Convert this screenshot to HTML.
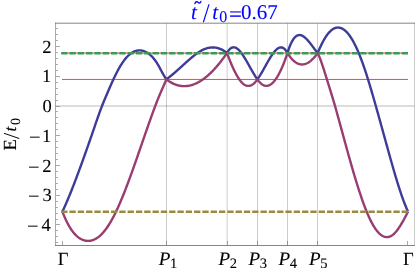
<!DOCTYPE html>
<html><head><meta charset="utf-8"><title>plot</title>
<style>html,body{margin:0;padding:0;background:#fff;font-family:"Liberation Serif",serif}svg{display:block}</style>
</head><body>
<svg width="415" height="268" viewBox="0 0 415 268" style="display:block">
<rect width="415" height="268" fill="#fff"/>
<line x1="166.5" y1="23.2" x2="166.5" y2="245.5" stroke="#000" stroke-opacity="0.2" stroke-width="1"/>
<line x1="227.15" y1="23.2" x2="227.15" y2="245.5" stroke="#000" stroke-opacity="0.2" stroke-width="1"/>
<line x1="257.5" y1="23.2" x2="257.5" y2="245.5" stroke="#000" stroke-opacity="0.2" stroke-width="1"/>
<line x1="287.5" y1="23.2" x2="287.5" y2="245.5" stroke="#000" stroke-opacity="0.2" stroke-width="1"/>
<line x1="317.5" y1="23.2" x2="317.5" y2="245.5" stroke="#000" stroke-opacity="0.2" stroke-width="1"/>
<line x1="55.5" y1="106.00" x2="414.6" y2="106.00" stroke="#000" stroke-opacity="0.135" stroke-width="2"/>
<line x1="62.0" y1="79.45" x2="407.95" y2="79.45" stroke="#ff2020" stroke-width="0.85"/>
<line x1="62.0" y1="53.1" x2="407.95" y2="53.1" stroke="#ff2020" stroke-width="0.9"/>
<path d="M62.40 211.60 L62.90 210.54 L63.40 209.46 L63.90 208.38 L64.40 207.28 L64.90 206.16 L65.40 205.04 L65.90 203.90 L66.40 202.76 L66.90 201.60 L67.40 200.43 L67.90 199.25 L68.40 198.05 L68.90 196.85 L69.40 195.64 L69.90 194.42 L70.40 193.19 L70.90 191.95 L71.40 190.70 L71.90 189.44 L72.40 188.18 L72.90 186.90 L73.40 185.62 L73.90 184.33 L74.40 183.03 L74.90 181.73 L75.40 180.41 L75.90 179.10 L76.40 177.77 L76.90 176.44 L77.40 175.10 L77.90 173.76 L78.40 172.41 L78.90 171.06 L79.40 169.70 L79.90 168.34 L80.40 166.97 L80.90 165.60 L81.40 164.23 L81.90 162.85 L82.40 161.47 L82.90 160.08 L83.40 158.69 L83.90 157.30 L84.40 155.90 L84.90 154.50 L85.40 153.10 L85.90 151.70 L86.40 150.29 L86.90 148.88 L87.40 147.46 L87.90 146.04 L88.40 144.62 L88.90 143.20 L89.40 141.77 L89.90 140.34 L90.40 138.90 L90.90 137.46 L91.40 136.02 L91.90 134.58 L92.40 133.13 L92.90 131.68 L93.40 130.23 L93.90 128.77 L94.40 127.31 L94.90 125.85 L95.40 124.39 L95.90 122.93 L96.40 121.48 L96.90 120.03 L97.40 118.59 L97.90 117.16 L98.40 115.74 L98.90 114.34 L99.40 112.95 L99.90 111.58 L100.40 110.23 L100.90 108.90 L101.40 107.58 L101.90 106.29 L102.40 105.01 L102.90 103.76 L103.40 102.52 L103.90 101.29 L104.40 100.08 L104.90 98.88 L105.40 97.69 L105.90 96.51 L106.40 95.33 L106.90 94.16 L107.40 92.99 L107.90 91.83 L108.40 90.66 L108.90 89.50 L109.40 88.35 L109.90 87.20 L110.40 86.06 L110.90 84.92 L111.40 83.80 L111.90 82.68 L112.40 81.57 L112.90 80.48 L113.40 79.40 L113.90 78.33 L114.40 77.28 L114.90 76.24 L115.40 75.22 L115.90 74.21 L116.40 73.22 L116.90 72.25 L117.40 71.30 L117.90 70.36 L118.40 69.44 L118.90 68.54 L119.40 67.66 L119.90 66.79 L120.40 65.95 L120.90 65.13 L121.40 64.33 L121.90 63.55 L122.40 62.79 L122.90 62.06 L123.40 61.34 L123.90 60.66 L124.40 59.99 L124.90 59.35 L125.40 58.73 L125.90 58.13 L126.40 57.56 L126.90 57.01 L127.40 56.48 L127.90 55.98 L128.40 55.50 L128.90 55.04 L129.40 54.60 L129.90 54.19 L130.40 53.80 L130.90 53.42 L131.40 53.08 L131.90 52.75 L132.40 52.44 L132.90 52.16 L133.40 51.90 L133.90 51.66 L134.40 51.44 L134.90 51.24 L135.40 51.06 L135.90 50.91 L136.40 50.77 L136.90 50.66 L137.40 50.56 L137.90 50.49 L138.40 50.43 L138.90 50.40 L139.40 50.38 L139.90 50.39 L140.40 50.41 L140.90 50.46 L141.40 50.52 L141.90 50.61 L142.40 50.71 L142.90 50.83 L143.40 50.97 L143.90 51.14 L144.40 51.31 L144.90 51.51 L145.40 51.73 L145.90 51.97 L146.40 52.22 L146.90 52.50 L147.40 52.80 L147.90 53.12 L148.40 53.46 L148.90 53.83 L149.40 54.21 L149.90 54.62 L150.40 55.05 L150.90 55.51 L151.40 55.99 L151.90 56.49 L152.40 57.02 L152.90 57.58 L153.40 58.16 L153.90 58.76 L154.40 59.40 L154.90 60.06 L155.40 60.74 L155.90 61.46 L156.40 62.20 L156.90 62.97 L157.40 63.77 L157.90 64.60 L158.40 65.46 L158.90 66.34 L159.40 67.24 L159.90 68.15 L160.40 69.08 L160.90 70.01 L161.40 70.95 L161.90 71.88 L162.40 72.81 L162.90 73.72 L163.40 74.62 L163.90 75.50 L164.40 76.36 L164.90 77.18 L165.40 77.97 L165.90 78.73 L166.30 79.30 L166.30 79.30 L166.80 78.95 L167.30 78.59 L167.80 78.23 L168.30 77.86 L168.80 77.48 L169.30 77.10 L169.80 76.71 L170.30 76.32 L170.80 75.92 L171.30 75.52 L171.80 75.11 L172.30 74.70 L172.80 74.28 L173.30 73.86 L173.80 73.44 L174.30 73.01 L174.80 72.58 L175.30 72.14 L175.80 71.71 L176.30 71.27 L176.80 70.82 L177.30 70.38 L177.80 69.93 L178.30 69.48 L178.80 69.03 L179.30 68.58 L179.80 68.13 L180.30 67.67 L180.80 67.22 L181.30 66.76 L181.80 66.30 L182.30 65.85 L182.80 65.39 L183.30 64.93 L183.80 64.48 L184.30 64.02 L184.80 63.57 L185.30 63.12 L185.80 62.66 L186.30 62.21 L186.80 61.76 L187.30 61.32 L187.80 60.87 L188.30 60.43 L188.80 59.99 L189.30 59.55 L189.80 59.12 L190.30 58.69 L190.80 58.26 L191.30 57.84 L191.80 57.42 L192.30 57.00 L192.80 56.59 L193.30 56.19 L193.80 55.79 L194.30 55.39 L194.80 55.00 L195.30 54.62 L195.80 54.24 L196.30 53.87 L196.80 53.51 L197.30 53.16 L197.80 52.81 L198.30 52.48 L198.80 52.15 L199.30 51.83 L199.80 51.52 L200.30 51.21 L200.80 50.92 L201.30 50.64 L201.80 50.37 L202.30 50.11 L202.80 49.86 L203.30 49.63 L203.80 49.40 L204.30 49.19 L204.80 48.99 L205.30 48.80 L205.80 48.62 L206.30 48.46 L206.80 48.30 L207.30 48.16 L207.80 48.03 L208.30 47.91 L208.80 47.81 L209.30 47.72 L209.80 47.64 L210.30 47.57 L210.80 47.52 L211.30 47.47 L211.80 47.44 L212.30 47.43 L212.80 47.42 L213.30 47.43 L213.80 47.46 L214.30 47.49 L214.80 47.54 L215.30 47.60 L215.80 47.68 L216.30 47.77 L216.80 47.87 L217.30 47.98 L217.80 48.11 L218.30 48.26 L218.80 48.41 L219.30 48.58 L219.80 48.77 L220.30 48.97 L220.80 49.18 L221.30 49.40 L221.80 49.64 L222.30 49.90 L222.80 50.17 L223.30 50.45 L223.80 50.75 L224.30 51.06 L224.80 51.39 L225.30 51.73 L225.80 52.08 L226.30 52.46 L226.80 52.84 L227.00 53.00 L227.00 53.00 L227.50 52.13 L228.00 51.34 L228.50 50.63 L229.00 49.99 L229.50 49.43 L230.00 48.93 L230.50 48.51 L231.00 48.15 L231.50 47.86 L232.00 47.63 L232.50 47.47 L233.00 47.37 L233.50 47.32 L234.00 47.34 L234.50 47.41 L235.00 47.53 L235.50 47.70 L236.00 47.92 L236.50 48.20 L237.00 48.51 L237.50 48.88 L238.00 49.28 L238.50 49.73 L239.00 50.21 L239.50 50.74 L240.00 51.30 L240.50 51.89 L241.00 52.51 L241.50 53.17 L242.00 53.85 L242.50 54.56 L243.00 55.30 L243.50 56.05 L244.00 56.83 L244.50 57.63 L245.00 58.45 L245.50 59.28 L246.00 60.13 L246.50 60.99 L247.00 61.86 L247.50 62.74 L248.00 63.63 L248.50 64.52 L249.00 65.41 L249.50 66.31 L250.00 67.21 L250.50 68.10 L251.00 68.99 L251.50 69.88 L252.00 70.76 L252.50 71.63 L253.00 72.48 L253.50 73.33 L254.00 74.16 L254.50 74.98 L255.00 75.78 L255.50 76.55 L256.00 77.31 L256.50 78.04 L257.00 78.75 L257.40 79.30 L257.40 79.30 L257.90 78.61 L258.40 77.90 L258.90 77.16 L259.40 76.39 L259.90 75.61 L260.40 74.80 L260.90 73.98 L261.40 73.14 L261.90 72.29 L262.40 71.43 L262.90 70.55 L263.40 69.66 L263.90 68.77 L264.40 67.88 L264.90 66.98 L265.40 66.07 L265.90 65.17 L266.40 64.27 L266.90 63.38 L267.40 62.49 L267.90 61.61 L268.40 60.74 L268.90 59.88 L269.40 59.03 L269.90 58.20 L270.40 57.38 L270.90 56.59 L271.40 55.81 L271.90 55.06 L272.40 54.33 L272.90 53.63 L273.40 52.95 L273.90 52.31 L274.40 51.69 L274.90 51.11 L275.40 50.57 L275.90 50.06 L276.40 49.59 L276.90 49.16 L277.40 48.78 L277.90 48.43 L278.40 48.14 L278.90 47.89 L279.40 47.70 L279.90 47.55 L280.40 47.46 L280.90 47.42 L281.40 47.44 L281.90 47.52 L282.40 47.66 L282.90 47.87 L283.40 48.13 L283.90 48.47 L284.40 48.87 L284.90 49.34 L285.40 49.89 L285.90 50.51 L286.40 51.20 L286.90 51.97 L287.40 52.82 L287.50 53.00 L287.50 53.00 L288.00 51.38 L288.50 49.84 L289.00 48.40 L289.50 47.03 L290.00 45.76 L290.50 44.56 L291.00 43.44 L291.50 42.41 L292.00 41.45 L292.50 40.56 L293.00 39.75 L293.50 39.01 L294.00 38.34 L294.50 37.73 L295.00 37.20 L295.50 36.72 L296.00 36.31 L296.50 35.96 L297.00 35.67 L297.50 35.44 L298.00 35.26 L298.50 35.14 L299.00 35.06 L299.50 35.04 L300.00 35.07 L300.50 35.14 L301.00 35.26 L301.50 35.42 L302.00 35.62 L302.50 35.86 L303.00 36.14 L303.50 36.46 L304.00 36.81 L304.50 37.19 L305.00 37.60 L305.50 38.05 L306.00 38.52 L306.50 39.01 L307.00 39.53 L307.50 40.07 L308.00 40.63 L308.50 41.21 L309.00 41.80 L309.50 42.41 L310.00 43.04 L310.50 43.67 L311.00 44.32 L311.50 44.97 L312.00 45.63 L312.50 46.29 L313.00 46.96 L313.50 47.62 L314.00 48.29 L314.50 48.95 L315.00 49.61 L315.50 50.26 L316.00 50.90 L316.50 51.53 L317.00 52.15 L317.50 52.76 L317.70 53.00 L317.70 53.00 L318.20 51.80 L318.70 50.62 L319.20 49.47 L319.70 48.34 L320.20 47.24 L320.70 46.17 L321.20 45.12 L321.70 44.10 L322.20 43.10 L322.70 42.14 L323.20 41.20 L323.70 40.29 L324.20 39.42 L324.70 38.57 L325.20 37.75 L325.70 36.96 L326.20 36.20 L326.70 35.47 L327.20 34.78 L327.70 34.12 L328.20 33.49 L328.70 32.89 L329.20 32.32 L329.70 31.78 L330.20 31.28 L330.70 30.81 L331.20 30.37 L331.70 29.97 L332.20 29.60 L332.70 29.26 L333.20 28.95 L333.70 28.67 L334.20 28.42 L334.70 28.21 L335.20 28.02 L335.70 27.87 L336.20 27.75 L336.70 27.66 L337.20 27.59 L337.70 27.56 L338.20 27.56 L338.70 27.59 L339.20 27.65 L339.70 27.74 L340.20 27.86 L340.70 28.01 L341.20 28.19 L341.70 28.40 L342.20 28.64 L342.70 28.91 L343.20 29.21 L343.70 29.54 L344.20 29.90 L344.70 30.29 L345.20 30.70 L345.70 31.15 L346.20 31.63 L346.70 32.13 L347.20 32.67 L347.70 33.23 L348.20 33.83 L348.70 34.45 L349.20 35.10 L349.70 35.78 L350.20 36.49 L350.70 37.23 L351.20 38.00 L351.70 38.79 L352.20 39.62 L352.70 40.47 L353.20 41.36 L353.70 42.27 L354.20 43.21 L354.70 44.18 L355.20 45.18 L355.70 46.20 L356.20 47.26 L356.70 48.34 L357.20 49.45 L357.70 50.59 L358.20 51.75 L358.70 52.94 L359.20 54.16 L359.70 55.40 L360.20 56.66 L360.70 57.96 L361.20 59.27 L361.70 60.61 L362.20 61.98 L362.70 63.36 L363.20 64.77 L363.70 66.20 L364.20 67.66 L364.70 69.13 L365.20 70.63 L365.70 72.14 L366.20 73.68 L366.70 75.23 L367.20 76.80 L367.70 78.39 L368.20 79.99 L368.70 81.61 L369.20 83.24 L369.70 84.89 L370.20 86.55 L370.70 88.22 L371.20 89.91 L371.70 91.61 L372.20 93.31 L372.70 95.03 L373.20 96.76 L373.70 98.49 L374.20 100.24 L374.70 101.99 L375.20 103.75 L375.70 105.51 L376.20 107.29 L376.70 109.06 L377.20 110.84 L377.70 112.63 L378.20 114.42 L378.70 116.21 L379.20 118.01 L379.70 119.81 L380.20 121.61 L380.70 123.41 L381.20 125.22 L381.70 127.03 L382.20 128.84 L382.70 130.65 L383.20 132.46 L383.70 134.28 L384.20 136.09 L384.70 137.90 L385.20 139.71 L385.70 141.52 L386.20 143.33 L386.70 145.14 L387.20 146.94 L387.70 148.75 L388.20 150.55 L388.70 152.34 L389.20 154.14 L389.70 155.92 L390.20 157.71 L390.70 159.49 L391.20 161.26 L391.70 163.03 L392.20 164.78 L392.70 166.53 L393.20 168.27 L393.70 170.00 L394.20 171.72 L394.70 173.42 L395.20 175.12 L395.70 176.80 L396.20 178.46 L396.70 180.11 L397.20 181.75 L397.70 183.36 L398.20 184.96 L398.70 186.55 L399.20 188.11 L399.70 189.65 L400.20 191.17 L400.70 192.67 L401.20 194.15 L401.70 195.60 L402.20 197.03 L402.70 198.44 L403.20 199.82 L403.70 201.17 L404.20 202.50 L404.70 203.80 L405.20 205.06 L405.70 206.30 L406.20 207.51 L406.70 208.69 L407.20 209.84 L407.70 210.95 L408.00 211.60" fill="none" stroke="#3d3d99" stroke-width="2.4" stroke-linejoin="round"/>
<path d="M62.40 211.60 L62.90 212.89 L63.40 214.15 L63.90 215.37 L64.40 216.56 L64.90 217.71 L65.40 218.82 L65.90 219.91 L66.40 220.96 L66.90 221.98 L67.40 222.96 L67.90 223.92 L68.40 224.84 L68.90 225.73 L69.40 226.59 L69.90 227.42 L70.40 228.23 L70.90 229.00 L71.40 229.74 L71.90 230.46 L72.40 231.14 L72.90 231.80 L73.40 232.44 L73.90 233.04 L74.40 233.62 L74.90 234.17 L75.40 234.70 L75.90 235.21 L76.40 235.69 L76.90 236.14 L77.40 236.57 L77.90 236.98 L78.40 237.37 L78.90 237.73 L79.40 238.07 L79.90 238.39 L80.40 238.69 L80.90 238.97 L81.40 239.22 L81.90 239.46 L82.40 239.68 L82.90 239.88 L83.40 240.06 L83.90 240.23 L84.40 240.37 L84.90 240.50 L85.40 240.61 L85.90 240.70 L86.40 240.77 L86.90 240.83 L87.40 240.86 L87.90 240.88 L88.40 240.88 L88.90 240.86 L89.40 240.83 L89.90 240.77 L90.40 240.70 L90.90 240.60 L91.40 240.49 L91.90 240.37 L92.40 240.22 L92.90 240.05 L93.40 239.87 L93.90 239.66 L94.40 239.44 L94.90 239.20 L95.40 238.94 L95.90 238.66 L96.40 238.37 L96.90 238.05 L97.40 237.72 L97.90 237.36 L98.40 236.99 L98.90 236.60 L99.40 236.19 L99.90 235.76 L100.40 235.31 L100.90 234.85 L101.40 234.36 L101.90 233.85 L102.40 233.33 L102.90 232.79 L103.40 232.22 L103.90 231.64 L104.40 231.04 L104.90 230.42 L105.40 229.78 L105.90 229.12 L106.40 228.44 L106.90 227.74 L107.40 227.02 L107.90 226.29 L108.40 225.53 L108.90 224.75 L109.40 223.96 L109.90 223.14 L110.40 222.31 L110.90 221.45 L111.40 220.58 L111.90 219.69 L112.40 218.78 L112.90 217.85 L113.40 216.90 L113.90 215.94 L114.40 214.96 L114.90 213.96 L115.40 212.94 L115.90 211.91 L116.40 210.86 L116.90 209.80 L117.40 208.72 L117.90 207.63 L118.40 206.52 L118.90 205.40 L119.40 204.26 L119.90 203.11 L120.40 201.95 L120.90 200.77 L121.40 199.58 L121.90 198.38 L122.40 197.17 L122.90 195.94 L123.40 194.70 L123.90 193.45 L124.40 192.19 L124.90 190.92 L125.40 189.64 L125.90 188.35 L126.40 187.05 L126.90 185.74 L127.40 184.42 L127.90 183.09 L128.40 181.75 L128.90 180.41 L129.40 179.05 L129.90 177.69 L130.40 176.32 L130.90 174.95 L131.40 173.57 L131.90 172.18 L132.40 170.79 L132.90 169.39 L133.40 167.98 L133.90 166.57 L134.40 165.16 L134.90 163.74 L135.40 162.31 L135.90 160.89 L136.40 159.46 L136.90 158.02 L137.40 156.59 L137.90 155.15 L138.40 153.71 L138.90 152.26 L139.40 150.82 L139.90 149.37 L140.40 147.92 L140.90 146.47 L141.40 145.03 L141.90 143.58 L142.40 142.13 L142.90 140.68 L143.40 139.23 L143.90 137.79 L144.40 136.34 L144.90 134.90 L145.40 133.46 L145.90 132.02 L146.40 130.59 L146.90 129.15 L147.40 127.73 L147.90 126.30 L148.40 124.88 L148.90 123.46 L149.40 122.05 L149.90 120.64 L150.40 119.24 L150.90 117.84 L151.40 116.45 L151.90 115.07 L152.40 113.69 L152.90 112.31 L153.40 110.95 L153.90 109.59 L154.40 108.25 L154.90 106.91 L155.40 105.58 L155.90 104.27 L156.40 102.97 L156.90 101.68 L157.40 100.40 L157.90 99.15 L158.40 97.90 L158.90 96.68 L159.40 95.47 L159.90 94.28 L160.40 93.12 L160.90 91.97 L161.40 90.83 L161.90 89.70 L162.40 88.58 L162.90 87.45 L163.40 86.32 L163.90 85.17 L164.40 84.00 L164.90 82.81 L165.40 81.59 L165.90 80.33 L166.30 79.30 L166.30 79.30 L166.80 79.68 L167.30 80.06 L167.80 80.42 L168.30 80.77 L168.80 81.10 L169.30 81.43 L169.80 81.75 L170.30 82.05 L170.80 82.34 L171.30 82.62 L171.80 82.89 L172.30 83.15 L172.80 83.40 L173.30 83.64 L173.80 83.87 L174.30 84.08 L174.80 84.29 L175.30 84.48 L175.80 84.66 L176.30 84.83 L176.80 84.99 L177.30 85.15 L177.80 85.29 L178.30 85.41 L178.80 85.53 L179.30 85.64 L179.80 85.74 L180.30 85.83 L180.80 85.90 L181.30 85.97 L181.80 86.02 L182.30 86.07 L182.80 86.10 L183.30 86.13 L183.80 86.14 L184.30 86.15 L184.80 86.14 L185.30 86.13 L185.80 86.10 L186.30 86.06 L186.80 86.02 L187.30 85.96 L187.80 85.90 L188.30 85.82 L188.80 85.74 L189.30 85.64 L189.80 85.54 L190.30 85.42 L190.80 85.30 L191.30 85.16 L191.80 85.02 L192.30 84.86 L192.80 84.70 L193.30 84.53 L193.80 84.35 L194.30 84.16 L194.80 83.95 L195.30 83.74 L195.80 83.52 L196.30 83.30 L196.80 83.06 L197.30 82.81 L197.80 82.55 L198.30 82.29 L198.80 82.01 L199.30 81.73 L199.80 81.44 L200.30 81.14 L200.80 80.83 L201.30 80.51 L201.80 80.18 L202.30 79.84 L202.80 79.49 L203.30 79.14 L203.80 78.78 L204.30 78.40 L204.80 78.02 L205.30 77.63 L205.80 77.24 L206.30 76.83 L206.80 76.41 L207.30 75.99 L207.80 75.56 L208.30 75.12 L208.80 74.67 L209.30 74.21 L209.80 73.75 L210.30 73.28 L210.80 72.79 L211.30 72.30 L211.80 71.81 L212.30 71.30 L212.80 70.79 L213.30 70.26 L213.80 69.74 L214.30 69.20 L214.80 68.65 L215.30 68.10 L215.80 67.54 L216.30 66.97 L216.80 66.39 L217.30 65.81 L217.80 65.21 L218.30 64.62 L218.80 64.01 L219.30 63.39 L219.80 62.77 L220.30 62.14 L220.80 61.50 L221.30 60.86 L221.80 60.21 L222.30 59.55 L222.80 58.88 L223.30 58.21 L223.80 57.53 L224.30 56.84 L224.80 56.14 L225.30 55.44 L225.80 54.73 L226.30 54.01 L226.80 53.29 L227.00 53.00 L227.00 53.00 L227.50 54.35 L228.00 55.69 L228.50 57.01 L229.00 58.31 L229.50 59.58 L230.00 60.84 L230.50 62.07 L231.00 63.28 L231.50 64.47 L232.00 65.63 L232.50 66.77 L233.00 67.88 L233.50 68.97 L234.00 70.02 L234.50 71.05 L235.00 72.06 L235.50 73.03 L236.00 73.97 L236.50 74.89 L237.00 75.77 L237.50 76.62 L238.00 77.43 L238.50 78.22 L239.00 78.96 L239.50 79.68 L240.00 80.36 L240.50 81.00 L241.00 81.61 L241.50 82.17 L242.00 82.70 L242.50 83.19 L243.00 83.64 L243.50 84.05 L244.00 84.42 L244.50 84.75 L245.00 85.04 L245.50 85.28 L246.00 85.49 L246.50 85.66 L247.00 85.78 L247.50 85.87 L248.00 85.91 L248.50 85.92 L249.00 85.88 L249.50 85.80 L250.00 85.69 L250.50 85.53 L251.00 85.33 L251.50 85.10 L252.00 84.82 L252.50 84.50 L253.00 84.15 L253.50 83.75 L254.00 83.32 L254.50 82.84 L255.00 82.32 L255.50 81.77 L256.00 81.17 L256.50 80.54 L257.00 79.87 L257.40 79.30 L257.40 79.30 L257.90 80.02 L258.40 80.70 L258.90 81.33 L259.40 81.92 L259.90 82.47 L260.40 82.98 L260.90 83.45 L261.40 83.87 L261.90 84.25 L262.40 84.59 L262.90 84.89 L263.40 85.15 L263.90 85.37 L264.40 85.55 L264.90 85.69 L265.40 85.79 L265.90 85.84 L266.40 85.86 L266.90 85.84 L267.40 85.78 L267.90 85.68 L268.40 85.54 L268.90 85.36 L269.40 85.15 L269.90 84.89 L270.40 84.60 L270.90 84.27 L271.40 83.90 L271.90 83.49 L272.40 83.05 L272.90 82.57 L273.40 82.05 L273.90 81.49 L274.40 80.90 L274.90 80.28 L275.40 79.61 L275.90 78.91 L276.40 78.17 L276.90 77.40 L277.40 76.60 L277.90 75.75 L278.40 74.88 L278.90 73.96 L279.40 73.02 L279.90 72.03 L280.40 71.02 L280.90 69.97 L281.40 68.88 L281.90 67.77 L282.40 66.61 L282.90 65.43 L283.40 64.21 L283.90 62.96 L284.40 61.68 L284.90 60.36 L285.40 59.01 L285.90 57.63 L286.40 56.22 L286.90 54.77 L287.40 53.30 L287.50 53.00 L287.50 53.00 L288.00 53.80 L288.50 54.56 L289.00 55.30 L289.50 56.00 L290.00 56.68 L290.50 57.32 L291.00 57.94 L291.50 58.53 L292.00 59.09 L292.50 59.62 L293.00 60.12 L293.50 60.59 L294.00 61.04 L294.50 61.46 L295.00 61.84 L295.50 62.21 L296.00 62.54 L296.50 62.85 L297.00 63.13 L297.50 63.38 L298.00 63.60 L298.50 63.80 L299.00 63.98 L299.50 64.12 L300.00 64.24 L300.50 64.34 L301.00 64.40 L301.50 64.45 L302.00 64.46 L302.50 64.45 L303.00 64.42 L303.50 64.36 L304.00 64.28 L304.50 64.17 L305.00 64.04 L305.50 63.88 L306.00 63.70 L306.50 63.50 L307.00 63.27 L307.50 63.02 L308.00 62.74 L308.50 62.44 L309.00 62.12 L309.50 61.78 L310.00 61.41 L310.50 61.02 L311.00 60.60 L311.50 60.17 L312.00 59.71 L312.50 59.23 L313.00 58.73 L313.50 58.21 L314.00 57.67 L314.50 57.10 L315.00 56.52 L315.50 55.91 L316.00 55.28 L316.50 54.64 L317.00 53.97 L317.50 53.28 L317.70 53.00 L317.70 53.00 L318.20 54.07 L318.70 55.20 L319.20 56.39 L319.70 57.64 L320.20 58.94 L320.70 60.28 L321.20 61.67 L321.70 63.10 L322.20 64.56 L322.70 66.06 L323.20 67.58 L323.70 69.13 L324.20 70.69 L324.70 72.27 L325.20 73.87 L325.70 75.47 L326.20 77.07 L326.70 78.68 L327.20 80.28 L327.70 81.89 L328.20 83.49 L328.70 85.09 L329.20 86.70 L329.70 88.31 L330.20 89.92 L330.70 91.54 L331.20 93.18 L331.70 94.82 L332.20 96.47 L332.70 98.13 L333.20 99.81 L333.70 101.50 L334.20 103.21 L334.70 104.93 L335.20 106.68 L335.70 108.44 L336.20 110.22 L336.70 112.01 L337.20 113.81 L337.70 115.61 L338.20 117.42 L338.70 119.23 L339.20 121.04 L339.70 122.86 L340.20 124.68 L340.70 126.51 L341.20 128.33 L341.70 130.16 L342.20 131.99 L342.70 133.82 L343.20 135.65 L343.70 137.47 L344.20 139.30 L344.70 141.12 L345.20 142.95 L345.70 144.76 L346.20 146.58 L346.70 148.39 L347.20 150.20 L347.70 152.00 L348.20 153.80 L348.70 155.59 L349.20 157.38 L349.70 159.15 L350.20 160.93 L350.70 162.69 L351.20 164.44 L351.70 166.19 L352.20 167.92 L352.70 169.65 L353.20 171.36 L353.70 173.07 L354.20 174.76 L354.70 176.44 L355.20 178.10 L355.70 179.76 L356.20 181.40 L356.70 183.02 L357.20 184.64 L357.70 186.23 L358.20 187.81 L358.70 189.37 L359.20 190.92 L359.70 192.45 L360.20 193.96 L360.70 195.46 L361.20 196.93 L361.70 198.38 L362.20 199.82 L362.70 201.23 L363.20 202.63 L363.70 204.00 L364.20 205.35 L364.70 206.68 L365.20 207.98 L365.70 209.26 L366.20 210.52 L366.70 211.75 L367.20 212.96 L367.70 214.14 L368.20 215.29 L368.70 216.42 L369.20 217.52 L369.70 218.59 L370.20 219.64 L370.70 220.65 L371.20 221.64 L371.70 222.60 L372.20 223.52 L372.70 224.42 L373.20 225.29 L373.70 226.13 L374.20 226.94 L374.70 227.71 L375.20 228.46 L375.70 229.18 L376.20 229.86 L376.70 230.52 L377.20 231.15 L377.70 231.74 L378.20 232.30 L378.70 232.84 L379.20 233.34 L379.70 233.81 L380.20 234.25 L380.70 234.66 L381.20 235.04 L381.70 235.38 L382.20 235.70 L382.70 235.98 L383.20 236.23 L383.70 236.45 L384.20 236.64 L384.70 236.80 L385.20 236.92 L385.70 237.01 L386.20 237.07 L386.70 237.10 L387.20 237.09 L387.70 237.06 L388.20 236.99 L388.70 236.88 L389.20 236.75 L389.70 236.58 L390.20 236.38 L390.70 236.14 L391.20 235.88 L391.70 235.57 L392.20 235.24 L392.70 234.87 L393.20 234.47 L393.70 234.04 L394.20 233.57 L394.70 233.08 L395.20 232.55 L395.70 232.00 L396.20 231.42 L396.70 230.81 L397.20 230.17 L397.70 229.51 L398.20 228.83 L398.70 228.12 L399.20 227.38 L399.70 226.63 L400.20 225.85 L400.70 225.05 L401.20 224.24 L401.70 223.40 L402.20 222.55 L402.70 221.68 L403.20 220.79 L403.70 219.89 L404.20 218.97 L404.70 218.04 L405.20 217.09 L405.70 216.14 L406.20 215.17 L406.70 214.19 L407.20 213.20 L407.70 212.20 L408.00 211.60" fill="none" stroke="#993d71" stroke-width="2.4" stroke-linejoin="round"/>
<line x1="61.15" y1="211.7" x2="408.2" y2="211.7" stroke="#998c3d" stroke-width="2.5" stroke-dasharray="6.336 1.97"/>
<line x1="61.15" y1="53.15" x2="408.2" y2="53.15" stroke="#3d9957" stroke-width="2.5" stroke-dasharray="6.336 1.97"/>
<line x1="55" y1="23.19" x2="415" y2="23.19" stroke="#666" stroke-width="0.8"/>
<line x1="415.1" y1="23" x2="415.1" y2="246" stroke="#666" stroke-width="0.8"/>
<line x1="55.5" y1="22.8" x2="55.5" y2="246" stroke="#666" stroke-opacity="0.56" stroke-width="1"/>
<line x1="55" y1="245.5" x2="415" y2="245.5" stroke="#666" stroke-opacity="0.8" stroke-width="1"/>
<line x1="56" y1="242.5" x2="57.9" y2="242.5" stroke="#666" stroke-opacity="0.56" stroke-width="1"/>
<line x1="56" y1="236.5" x2="57.9" y2="236.5" stroke="#666" stroke-opacity="0.56" stroke-width="1"/>
<line x1="56" y1="230.5" x2="57.9" y2="230.5" stroke="#666" stroke-opacity="0.56" stroke-width="1"/>
<line x1="56" y1="224.5" x2="60.0" y2="224.5" stroke="#666" stroke-opacity="0.56" stroke-width="1"/>
<line x1="56" y1="219.5" x2="57.9" y2="219.5" stroke="#666" stroke-opacity="0.56" stroke-width="1"/>
<line x1="56" y1="213.5" x2="57.9" y2="213.5" stroke="#666" stroke-opacity="0.56" stroke-width="1"/>
<line x1="56" y1="207.5" x2="57.9" y2="207.5" stroke="#666" stroke-opacity="0.56" stroke-width="1"/>
<line x1="56" y1="201.5" x2="57.9" y2="201.5" stroke="#666" stroke-opacity="0.56" stroke-width="1"/>
<line x1="56" y1="195.5" x2="60.0" y2="195.5" stroke="#666" stroke-opacity="0.56" stroke-width="1"/>
<line x1="56" y1="189.5" x2="57.9" y2="189.5" stroke="#666" stroke-opacity="0.56" stroke-width="1"/>
<line x1="56" y1="183.5" x2="57.9" y2="183.5" stroke="#666" stroke-opacity="0.56" stroke-width="1"/>
<line x1="56" y1="177.5" x2="57.9" y2="177.5" stroke="#666" stroke-opacity="0.56" stroke-width="1"/>
<line x1="56" y1="171.5" x2="57.9" y2="171.5" stroke="#666" stroke-opacity="0.56" stroke-width="1"/>
<line x1="56" y1="165.5" x2="60.0" y2="165.5" stroke="#666" stroke-opacity="0.56" stroke-width="1"/>
<line x1="56" y1="159.5" x2="57.9" y2="159.5" stroke="#666" stroke-opacity="0.56" stroke-width="1"/>
<line x1="56" y1="153.5" x2="57.9" y2="153.5" stroke="#666" stroke-opacity="0.56" stroke-width="1"/>
<line x1="56" y1="147.5" x2="57.9" y2="147.5" stroke="#666" stroke-opacity="0.56" stroke-width="1"/>
<line x1="56" y1="141.5" x2="57.9" y2="141.5" stroke="#666" stroke-opacity="0.56" stroke-width="1"/>
<line x1="56" y1="135.5" x2="60.0" y2="135.5" stroke="#666" stroke-opacity="0.56" stroke-width="1"/>
<line x1="56" y1="129.5" x2="57.9" y2="129.5" stroke="#666" stroke-opacity="0.56" stroke-width="1"/>
<line x1="56" y1="123.5" x2="57.9" y2="123.5" stroke="#666" stroke-opacity="0.56" stroke-width="1"/>
<line x1="56" y1="117.5" x2="57.9" y2="117.5" stroke="#666" stroke-opacity="0.56" stroke-width="1"/>
<line x1="56" y1="111.5" x2="57.9" y2="111.5" stroke="#666" stroke-opacity="0.56" stroke-width="1"/>
<line x1="56" y1="106.5" x2="60.0" y2="106.5" stroke="#666" stroke-opacity="0.56" stroke-width="1"/>
<line x1="56" y1="100.5" x2="57.9" y2="100.5" stroke="#666" stroke-opacity="0.56" stroke-width="1"/>
<line x1="56" y1="94.5" x2="57.9" y2="94.5" stroke="#666" stroke-opacity="0.56" stroke-width="1"/>
<line x1="56" y1="88.5" x2="57.9" y2="88.5" stroke="#666" stroke-opacity="0.56" stroke-width="1"/>
<line x1="56" y1="82.5" x2="57.9" y2="82.5" stroke="#666" stroke-opacity="0.56" stroke-width="1"/>
<line x1="56" y1="76.5" x2="60.0" y2="76.5" stroke="#666" stroke-opacity="0.56" stroke-width="1"/>
<line x1="56" y1="70.5" x2="57.9" y2="70.5" stroke="#666" stroke-opacity="0.56" stroke-width="1"/>
<line x1="56" y1="64.5" x2="57.9" y2="64.5" stroke="#666" stroke-opacity="0.56" stroke-width="1"/>
<line x1="56" y1="58.5" x2="57.9" y2="58.5" stroke="#666" stroke-opacity="0.56" stroke-width="1"/>
<line x1="56" y1="52.5" x2="57.9" y2="52.5" stroke="#666" stroke-opacity="0.56" stroke-width="1"/>
<line x1="56" y1="46.5" x2="60.0" y2="46.5" stroke="#666" stroke-opacity="0.56" stroke-width="1"/>
<line x1="56" y1="40.5" x2="57.9" y2="40.5" stroke="#666" stroke-opacity="0.56" stroke-width="1"/>
<line x1="56" y1="34.5" x2="57.9" y2="34.5" stroke="#666" stroke-opacity="0.56" stroke-width="1"/>
<line x1="56" y1="28.5" x2="57.9" y2="28.5" stroke="#666" stroke-opacity="0.56" stroke-width="1"/>
<line x1="62.5" y1="245" x2="62.5" y2="241" stroke="#666" stroke-opacity="0.56" stroke-width="1"/>
<line x1="166.5" y1="245" x2="166.5" y2="241" stroke="#666" stroke-opacity="0.56" stroke-width="1"/>
<line x1="227.5" y1="245" x2="227.5" y2="241" stroke="#666" stroke-opacity="0.56" stroke-width="1"/>
<line x1="257.5" y1="245" x2="257.5" y2="241" stroke="#666" stroke-opacity="0.56" stroke-width="1"/>
<line x1="287.5" y1="245" x2="287.5" y2="241" stroke="#666" stroke-opacity="0.56" stroke-width="1"/>
<line x1="317.5" y1="245" x2="317.5" y2="241" stroke="#666" stroke-opacity="0.56" stroke-width="1"/>
<line x1="407.5" y1="245" x2="407.5" y2="241" stroke="#666" stroke-opacity="0.56" stroke-width="1"/>
<g filter="url(#nf)" font-family="Liberation Serif, serif" font-size="18.5" fill="#000" stroke="#000" stroke-width="0.1" style="text-rendering:geometricPrecision">
<text x="41.4" y="231.16">4</text>
<text x="27.1" y="233.00" font-size="20.6" stroke="none">−</text>
<text x="42.4" y="201.42">3</text>
<text x="28.1" y="203.26" font-size="20.6" stroke="none">−</text>
<text x="42.24" y="171.68">2</text>
<text x="28.1" y="173.52" font-size="20.6" stroke="none">−</text>
<text x="42.0" y="141.94">1</text>
<text x="29.0" y="143.78" font-size="20.6" stroke="none">−</text>
<text x="42.6" y="112.20">0</text>
<text x="42.0" y="82.46">1</text>
<text x="42.24" y="52.72">2</text>
<text x="57.7" y="264.5">Γ</text>
<text x="403.05" y="264.5">Γ</text>
<text x="158.64" y="264.7" font-size="19" font-style="italic">P</text>
<text x="169.90" y="268.0" font-size="14.5">1</text>
<text x="218.44" y="264.7" font-size="19" font-style="italic">P</text>
<text x="229.70" y="268.0" font-size="14.5">2</text>
<text x="248.44" y="264.7" font-size="19" font-style="italic">P</text>
<text x="259.70" y="268.0" font-size="14.5">3</text>
<text x="278.44" y="264.7" font-size="19" font-style="italic">P</text>
<text x="289.70" y="268.0" font-size="14.5">4</text>
<text x="308.94" y="264.7" font-size="19" font-style="italic">P</text>
<text x="320.20" y="268.0" font-size="14.5">5</text>
<g transform="translate(15.9,150.6) rotate(-90)">
<text x="0" y="0" font-size="18.5">E</text>
<text x="11.5" y="2.6" font-size="22.9" stroke="none">/</text>
<text x="19.2" y="0" font-size="17.5" font-style="italic">t</text>
<text x="25.57" y="3.6" font-size="14">0</text>
</g>
</g>
<g filter="url(#nf)" font-family="Liberation Serif, serif" font-size="21" fill="#0000ff" stroke="#0000ff" stroke-width="0.1" style="text-rendering:geometricPrecision">
<text x="190.9" y="18.8" font-style="italic">t</text>
<path d="M194.9 3.6 C195.6 1.2 197.2 1.5 198 2.3 C199 3.3 200.3 3.5 200.9 1.3" fill="none" stroke="#0000ff" stroke-width="1.3" stroke-linecap="round"/>
<text transform="translate(202.8,21.9) scale(0.95,1.03)" x="0" y="0" font-size="26" stroke="none">/</text>
<text x="212.2" y="18.8" font-style="italic">t</text>
<text x="219.24" y="22.2" font-size="16">0</text>
<text transform="translate(228.9,20.6) scale(1.09,1)" x="0" y="0">=</text>
<text x="241.05" y="18.65">0.67</text>
</g>
<defs><filter id="nf" x="0" y="0" width="415" height="268" filterUnits="userSpaceOnUse"><feOffset dx="0" dy="0"/></filter></defs>
</svg>
</body></html>
